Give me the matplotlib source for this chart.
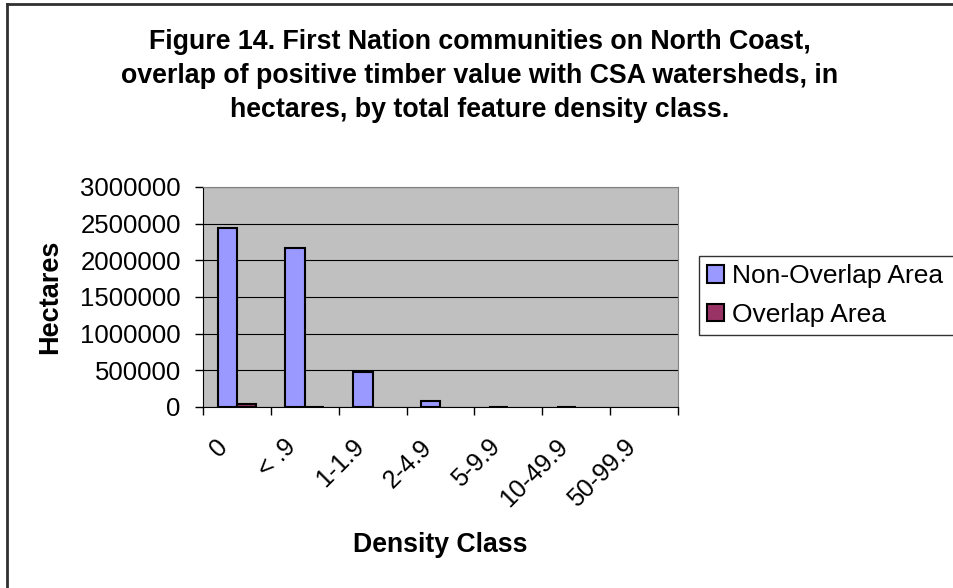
import numpy as np
import matplotlib
matplotlib.use("Agg")
import matplotlib.pyplot as plt
from matplotlib.lines import Line2D
from matplotlib.transforms import ScaledTranslation

plt.rcParams['font.family'] = ['Liberation Sans', 'DejaVu Sans']

# Data
categories = ["0", "< .9", "1-1.9", "2-4.9", "5-9.9", "10-49.9", "50-99.9"]
non_overlap = [2440000, 2170000, 475000, 82000, 6000, 5000, 0]
overlap = [38000, 6000, 0, 0, 0, 0, 0]
yticks = [0, 500000, 1000000, 1500000, 2000000, 2500000, 3000000]

title = ("Figure 14. First Nation communities on North Coast,\n"
         "overlap of positive timber value with CSA watersheds, in\n"
         "hectares, by total feature density class.")

W, H = 954, 588
fig = plt.figure(figsize=(W / 100, H / 100), dpi=100)

# plot area in pixels
left, right, top, bottom = 203, 678, 187, 407
ax = fig.add_axes([left / W, 1 - bottom / H, (right - left) / W, (bottom - top) / H])
ax.set_facecolor("#C0C0C0")

x = np.arange(len(categories))
w = 1 / 3.5
# zero-height bars get no outline (Excel draws nothing for them)
ax.bar(x - w / 2, non_overlap, w, color="#9999FF", edgecolor="black",
       linewidth=[1.5 if v > 0 else 0 for v in non_overlap],
       label="Non-Overlap Area", zorder=3)
ax.bar(x + w / 2, overlap, w, color="#993366", edgecolor="black",
       linewidth=[1.5 if v > 0 else 0 for v in overlap],
       label="Overlap Area", zorder=3)

ax.set_xlim(-0.5, len(categories) - 0.5)
ax.set_ylim(0, 3000000)
ax.set_yticks(yticks)
ax.set_yticklabels([str(v) for v in yticks], fontsize=18.5)
ax.yaxis.grid(True, color="black", linewidth=0.8, zorder=0)
ax.set_axisbelow(True)

ax.set_xticks(np.arange(len(categories) + 1) - 0.5, minor=False)
ax.set_xticklabels([])
ax.set_xticks(x, minor=True)
ax.set_xticklabels(categories, minor=True, rotation=45, ha="right", va="top",
                   rotation_mode="anchor", fontsize=18)
ax.tick_params(axis="x", which="minor", length=0, pad=20)
ax.tick_params(axis="x", which="major", length=6, direction="out", width=1)
ax.tick_params(axis="y", length=6, width=1, pad=10)
shift = ScaledTranslation(-0.21, 0, fig.dpi_scale_trans)
for lab in ax.get_xticklabels(minor=True):
    lab.set_transform(lab.get_transform() + shift)

for s in ["top", "right"]:
    ax.spines[s].set_color("#808080")
for s in ["left", "bottom"]:
    ax.spines[s].set_color("black")

fig.text(440 / W, 1 - 545 / H, "Density Class", fontsize=19.2, fontweight="bold",
         ha="center", va="center")
fig.text(50 / W, 1 - 297 / H, "Hectares", fontsize=19.5, fontweight="bold",
         ha="center", va="center", rotation=90)

fig.text(480 / W, 1 - 76 / H, title, fontsize=19.3, fontweight="bold",
         ha="center", va="center", linespacing=1.38)

leg = fig.legend(loc="upper left", bbox_to_anchor=(699 / W, 1 - 257 / H, 280 / W, 0.001),
                 mode="expand", fontsize=19, frameon=True, fancybox=False,
                 handlelength=0.66, handleheight=0.62, handletextpad=0.28,
                 borderpad=0.3, labelspacing=0.55, borderaxespad=0)
leg.get_frame().set_edgecolor("black")
leg.get_frame().set_linewidth(1)

# outer chart border (left and top visible)
fig.add_artist(Line2D([7 / W, 7 / W], [0, 1 - 4 / H], color="#303030", linewidth=2))
fig.add_artist(Line2D([7 / W, 1], [1 - 4 / H, 1 - 4 / H], color="#303030", linewidth=2))

fig.savefig("out.png", dpi=100)
